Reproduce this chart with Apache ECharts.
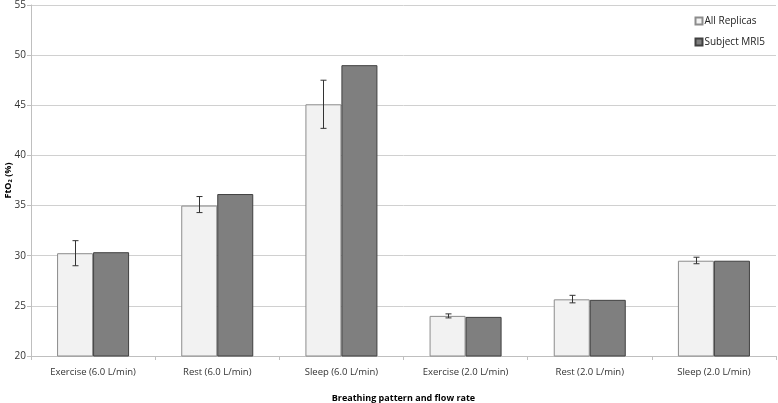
<!DOCTYPE html>
<html><head><meta charset="utf-8">
<script src="https://cdn.jsdelivr.net/npm/echarts@6/dist/echarts.min.js"></script>
<style>html,body{margin:0;padding:0;background:#fff}#c{width:778px;height:403px}</style>
</head><body><div id="c"></div>
<script>
const categories = ['Exercise (6.0 L/min)','Rest (6.0 L/min)','Sleep (6.0 L/min)','Exercise (2.0 L/min)','Rest (2.0 L/min)','Sleep (2.0 L/min)'];
const allReplicas = [30.25, 35.0, 45.1, 24.0, 25.65, 29.5];
const errLow = [29.0, 34.3, 42.7, 23.8, 25.3, 29.2];
const errHigh = [31.5, 35.9, 47.5, 24.2, 26.05, 29.85];
const subjectMRI5 = [30.35, 36.15, 49.0, 23.9, 25.6, 29.5];
const yTicks = [20,25,30,35,40,45,50,55];

const font = 'Open Sans';
const gapPct = 0.42;
const chart = echarts.init(document.getElementById('c'));
chart.setOption({
  animation:false,
  textStyle:{fontFamily:font},
  grid:{left:31,right:2,top:5,bottom:47,containLabel:false,outerBoundsMode:'none'},
  legend:{
    orient:'vertical', right:8, top:11, itemGap:11, itemWidth:7, itemHeight:7,
    icon:'rect',
    textStyle:{fontSize:10,color:'#222',fontFamily:font,padding:[0,0,0,-3]},
    data:['All Replicas','Subject MRI5']
  },
  xAxis:{
    type:'category', data:categories,
    name:'Breathing pattern and flow rate', nameLocation:'middle', nameGap:38, nameMoveOverlap:false,
    nameTextStyle:{fontSize:9,fontWeight:'bold',color:'#000',fontFamily:font},
    axisLine:{lineStyle:{color:'#bfbfbf'}},
    axisTick:{show:true,length:4,lineStyle:{color:'#bfbfbf'}},
    axisLabel:{fontSize:9.5,color:'#333',margin:11,fontFamily:font}
  },
  yAxis:{
    type:'value', min:20, max:55, interval:5,
    name:'FtO\u2082 (%)', nameLocation:'middle', nameGap:18, nameRotate:90, nameMoveOverlap:false,
    nameTextStyle:{fontSize:9,fontWeight:'bold',color:'#000',fontFamily:font},
    axisLine:{show:true,lineStyle:{color:'#bfbfbf'}},
    axisTick:{show:true,length:4,lineStyle:{color:'#bfbfbf'}},
    axisLabel:{fontSize:10,color:'#333',margin:5,fontFamily:font,
      formatter:v=>yTicks.includes(v)?String(v):''},
    splitLine:{lineStyle:{color:'#d0d0d0'}}
  },
  series:[
    {name:'All Replicas',type:'bar',data:allReplicas,barGap:'0%',barCategoryGap:(gapPct*100)+'%',
      itemStyle:{color:'#f2f2f2',borderColor:'#8c8c8c',borderWidth:1}},
    {name:'Subject MRI5',type:'bar',data:subjectMRI5,barGap:'0%',barCategoryGap:(gapPct*100)+'%',
      itemStyle:{color:'#7f7f7f',borderColor:'#404040',borderWidth:1}},
    {type:'custom',name:'err',silent:true,z:10,
      data:categories.map((c,i)=>[i,errLow[i],errHigh[i]]),
      encode:{x:0,y:[1,2]},
      renderItem:function(params,api){
        const i=api.value(0);
        const band=api.size([1,0])[0];
        const off=-band*(1-gapPct)/4;
        const lo=api.coord([i,api.value(1)]);
        const hi=api.coord([i,api.value(2)]);
        const x=Math.round(lo[0]+off)+0.5;
        const cap=3;
        const st={stroke:'#333',lineWidth:1};
        return {type:'group',children:[
          {type:'line',shape:{x1:x,y1:lo[1],x2:x,y2:hi[1]},style:st},
          {type:'line',shape:{x1:x-cap,y1:lo[1],x2:x+cap,y2:lo[1]},style:st},
          {type:'line',shape:{x1:x-cap,y1:hi[1],x2:x+cap,y2:hi[1]},style:st}
        ]};
      }}
  ]
});
</script></body></html>
